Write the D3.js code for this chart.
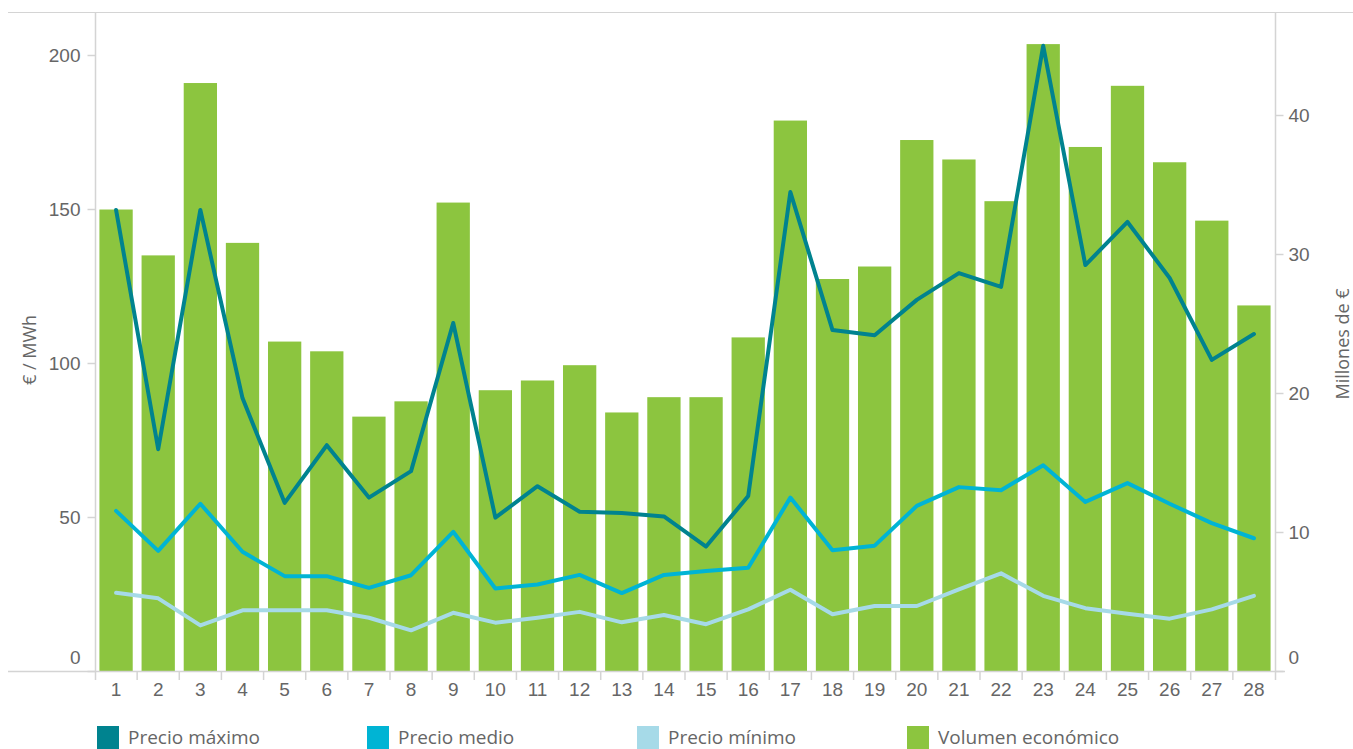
<!DOCTYPE html>
<html lang="es">
<head>
<meta charset="utf-8">
<script src="https://cdn.jsdelivr.net/npm/d3@7"></script>
<style>
  html, body { margin: 0; padding: 0; background: #fff; }
  svg { display: block; font-family: "Open Sans", "Noto Sans", sans-serif; }
</style>
</head>
<body>
<svg id="chart" width="1353" height="749"></svg>
<script>
// Días del mes
const dias = d3.range(1, 29);

// Precios diarios (€/MWh)
const precioMaximo = [149.7, 72.0, 149.7, 88.6, 54.6, 73.3, 56.3, 64.9, 113.0, 49.8,
  60.0, 51.7, 51.3, 50.2, 40.4, 56.8, 155.5, 110.7, 109.0, 120.5,
  129.2, 124.7, 203.0, 131.8, 145.8, 127.6, 101.0, 109.4];
const precioMedio = [52.0, 39.0, 54.3, 38.7, 30.8, 30.8, 27.0, 31.1, 45.2, 26.8,
  28.1, 31.2, 25.3, 31.2, 32.5, 33.5, 56.3, 39.2, 40.7, 53.6,
  59.7, 58.7, 66.8, 54.9, 61.0, 54.3, 48.0, 43.1];
const precioMinimo = [25.4, 23.6, 14.8, 19.7, 19.7, 19.7, 17.3, 13.2, 18.9, 15.7,
  17.3, 19.2, 15.8, 18.2, 15.2, 20.0, 26.4, 18.4, 21.1, 21.1,
  26.5, 31.7, 24.4, 20.4, 18.6, 17.0, 20.0, 24.4];

// Volumen económico diario (millones de €)
const volumenEconomico = [33.2, 29.9, 42.3, 30.8, 23.7, 23.0, 18.3, 19.4, 33.7, 20.2,
  20.9, 22.0, 18.6, 19.7, 19.7, 24.0, 39.6, 28.2, 29.1, 38.2,
  36.8, 33.8, 45.1, 37.7, 42.1, 36.6, 32.4, 26.3];

const ticksPrecio = [0, 50, 100, 150, 200];
const ticksVolumen = [0, 10, 20, 30, 40];

const colores = {
  maximo: "#00838f",
  medio: "#00b4d4",
  minimo: "#a6dae8",
  volumen: "#8cc53f"
};

const leyenda = [
  { nombre: "Precio máximo", color: colores.maximo },
  { nombre: "Precio medio", color: colores.medio },
  { nombre: "Precio mínimo", color: colores.minimo },
  { nombre: "Volumen económico", color: colores.volumen }
];

// Área de trazado
const plotLeft = 95, plotRight = 1275, plotTop = 12, plotBottom = 671;
const axisColor = "#d4d4d4";
const textColor = "#666666";

const svg = d3.select("#chart");

const x = d3.scaleBand()
  .domain(dias)
  .range([plotLeft, plotRight])
  .paddingInner(0.21)
  .paddingOuter(0.105);

const yPrecio = d3.scaleLinear()
  .domain([0, (plotBottom - plotTop) / 3.08])
  .range([plotBottom, plotTop]);

const yVolumen = d3.scaleLinear()
  .domain([0, (plotBottom - plotTop) / 13.9])
  .range([plotBottom, plotTop]);

// Línea superior del marco
svg.append("line")
  .attr("x1", 8).attr("x2", 1353)
  .attr("y1", plotTop + 0.5).attr("y2", plotTop + 0.5)
  .attr("stroke", axisColor);

// Barras de volumen económico
svg.append("g")
  .selectAll("rect")
  .data(dias)
  .join("rect")
  .attr("x", d => x(d))
  .attr("width", x.bandwidth())
  .attr("y", (d, i) => yVolumen(volumenEconomico[i]))
  .attr("height", (d, i) => plotBottom - yVolumen(volumenEconomico[i]))
  .attr("fill", colores.volumen);

// Líneas de precio
const linea = serie => d3.line()
  .x((d, i) => x(dias[i]) + x.bandwidth() / 2)
  .y(d => yPrecio(d))(serie);

[[precioMinimo, colores.minimo], [precioMedio, colores.medio], [precioMaximo, colores.maximo]]
  .forEach(([serie, color]) => {
    svg.append("path")
      .attr("d", linea(serie))
      .attr("fill", "none")
      .attr("stroke", color)
      .attr("stroke-width", 4)
      .attr("stroke-linejoin", "round")
      .attr("stroke-linecap", "round");
  });

// Eje izquierdo (€/MWh)
const ejeIzq = svg.append("g")
  .attr("transform", `translate(${plotLeft + 0.5},0)`)
  .call(d3.axisLeft(yPrecio).tickValues(ticksPrecio).tickSize(8).tickPadding(7));
ejeIzq.select(".domain").attr("d", `M0,${plotTop}V${plotBottom + 9}`);

// Eje derecho (millones de €)
const ejeDer = svg.append("g")
  .attr("transform", `translate(${plotRight + 0.5},0)`)
  .call(d3.axisRight(yVolumen).tickValues(ticksVolumen).tickSize(8).tickPadding(5));
ejeDer.select(".domain").attr("d", `M0,${plotTop}V${plotBottom + 9}`);

[ejeIzq, ejeDer].forEach(g => {
  g.select(".domain").attr("stroke", axisColor).attr("stroke-width", 1.5);
  g.selectAll(".tick line").attr("stroke", axisColor).attr("stroke-width", 1.5);
  g.selectAll(".tick text")
    .attr("fill", textColor)
    .style("font-size", "19px")
    .attr("dy", d => d === 0 ? "-0.4em" : "0.32em");
});

// Eje inferior (días)
svg.append("line")
  .attr("x1", 8).attr("x2", plotRight + 10)
  .attr("y1", plotBottom + 0.5).attr("y2", plotBottom + 0.5)
  .attr("stroke", axisColor).attr("stroke-width", 1.5);

const ejeX = svg.append("g")
  .attr("transform", `translate(0,${plotBottom + 0.5})`)
  .call(d3.axisBottom(x).tickSize(0).tickPadding(11));
ejeX.select(".domain").remove();
ejeX.selectAll(".tick text")
  .attr("fill", textColor)
  .style("font-size", "19px");

// Separadores entre categorías
svg.append("g")
  .selectAll("line")
  .data(dias.slice(1))
  .join("line")
  .attr("x1", d => x(d) - x.step() * x.paddingInner() / 2)
  .attr("x2", d => x(d) - x.step() * x.paddingInner() / 2)
  .attr("y1", plotBottom)
  .attr("y2", plotBottom + 9)
  .attr("stroke", axisColor)
  .attr("stroke-width", 1.5);

// Títulos de los ejes
svg.append("text")
  .attr("transform", `translate(36,350) rotate(-90)`)
  .attr("text-anchor", "middle")
  .attr("fill", textColor)
  .style("font-size", "18px")
  .text("€ / MWh");

svg.append("text")
  .attr("transform", `translate(1349,344) rotate(-90)`)
  .attr("text-anchor", "middle")
  .attr("fill", textColor)
  .style("font-size", "18px")
  .text("Millones de €");

// Leyenda
const itemLeyenda = svg.append("g")
  .selectAll("g")
  .data(leyenda)
  .join("g")
  .attr("transform", (d, i) => `translate(${97 + i * 270},726)`);

itemLeyenda.append("rect")
  .attr("width", 22).attr("height", 23)
  .attr("fill", d => d.color);

itemLeyenda.append("text")
  .attr("x", 31).attr("y", 18)
  .attr("fill", textColor)
  .style("font-size", "19px")
  .text(d => d.nombre);
</script>
</body>
</html>
